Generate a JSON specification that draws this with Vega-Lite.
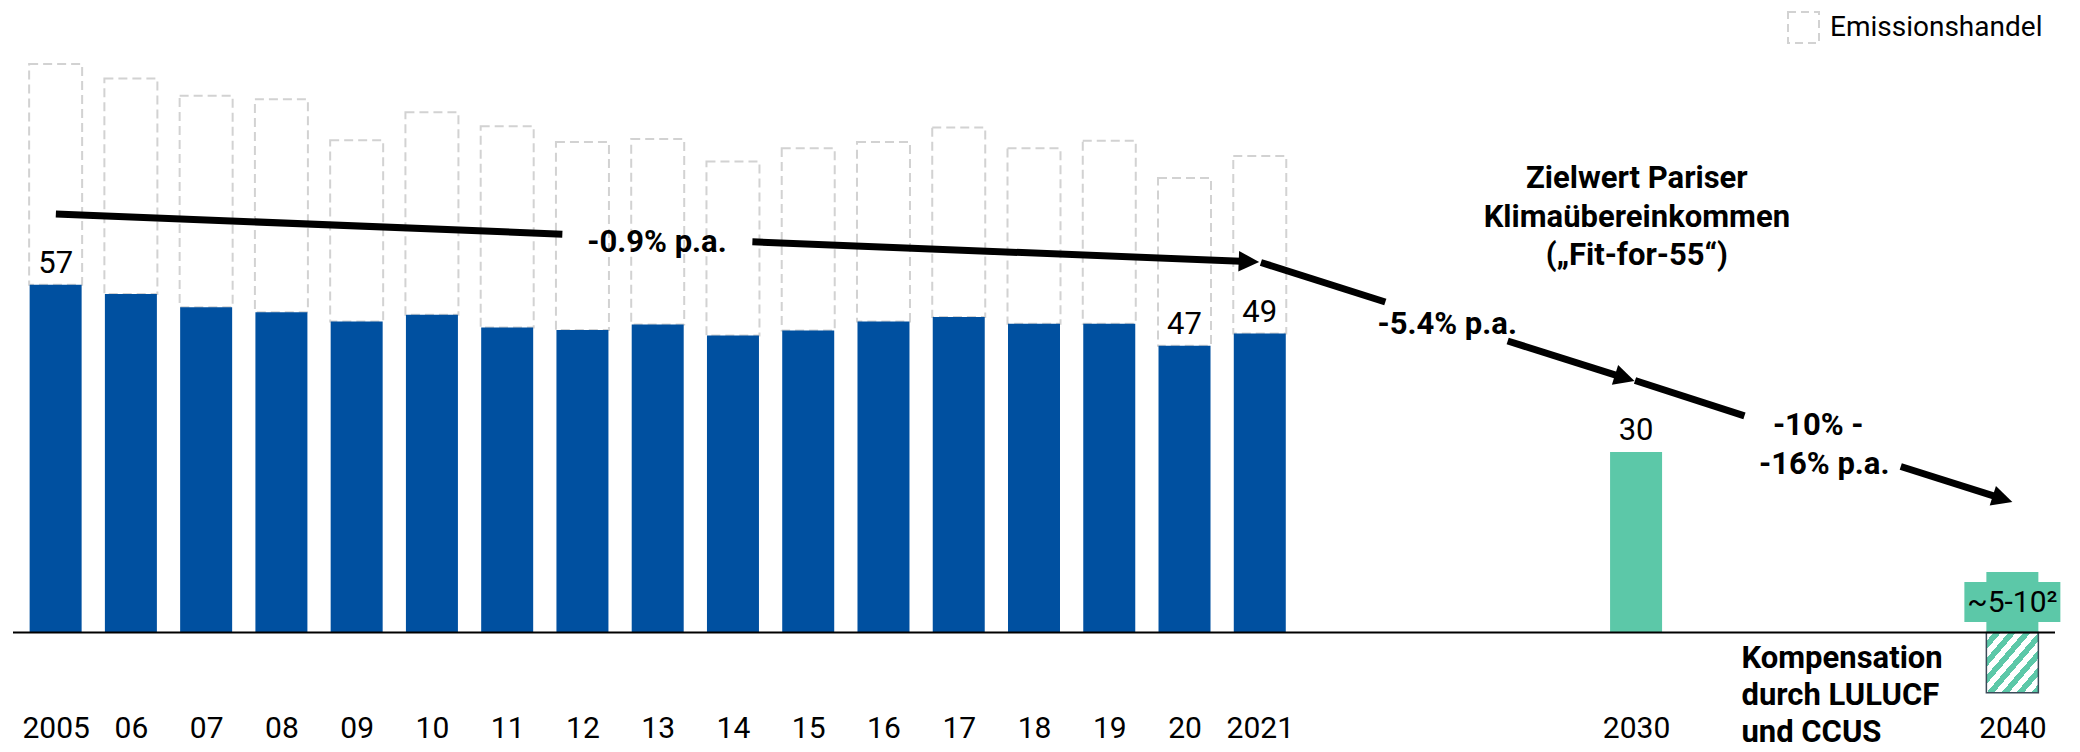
{
  "$schema": "https://vega.github.io/schema/vega-lite/v6.json",
  "width": 2042,
  "height": 700,
  "autosize": {"type": "none"},
  "padding": {"left": 13, "top": 0, "right": 25, "bottom": 52},
  "background": "white",
  "config": {"view": {"stroke": null}, "font": "Roboto"},
  "datasets": {
    "bars": [
      {"pos": 0, "year": "2005", "kind": "hist", "value": 57.0, "total": 93.2, "label": "57"},
      {"pos": 1, "year": "06", "kind": "hist", "value": 55.5, "total": 90.8},
      {"pos": 2, "year": "07", "kind": "hist", "value": 53.3, "total": 88.0},
      {"pos": 3, "year": "08", "kind": "hist", "value": 52.5, "total": 87.4},
      {"pos": 4, "year": "09", "kind": "hist", "value": 51.0, "total": 80.7},
      {"pos": 5, "year": "10", "kind": "hist", "value": 52.1, "total": 85.3},
      {"pos": 6, "year": "11", "kind": "hist", "value": 50.0, "total": 83.0},
      {"pos": 7, "year": "12", "kind": "hist", "value": 49.6, "total": 80.4},
      {"pos": 8, "year": "13", "kind": "hist", "value": 50.5, "total": 80.9},
      {"pos": 9, "year": "14", "kind": "hist", "value": 48.7, "total": 77.2},
      {"pos": 10, "year": "15", "kind": "hist", "value": 49.5, "total": 79.4},
      {"pos": 11, "year": "16", "kind": "hist", "value": 51.0, "total": 80.4},
      {"pos": 12, "year": "17", "kind": "hist", "value": 51.7, "total": 82.8},
      {"pos": 13, "year": "18", "kind": "hist", "value": 50.6, "total": 79.4},
      {"pos": 14, "year": "19", "kind": "hist", "value": 50.6, "total": 80.6},
      {"pos": 15, "year": "20", "kind": "hist", "value": 47.0, "total": 74.5, "label": "47"},
      {"pos": 16, "year": "2021", "kind": "hist", "value": 49.0, "total": 78.1, "label": "49"},
      {"pos": 21, "year": "2030", "kind": "target", "value": 29.6, "label": "30"},
      {"pos": 26, "year": "2040", "kind": "target", "value": 9.9},
      {"pos": 26, "year": "2040", "kind": "offset", "value": -9.9}
    ],
    "baseline": [{"level": 0}],
    "rangebox": [
      {"pos": 26, "low": 1.72, "high": 8.28, "mid": 4.9, "text": "~5-10²"}
    ],
    "arrows": [
      {"x0": 0.003, "y0": 68.61, "x1": 6.733, "y1": 65.30},
      {"x0": 9.258, "y0": 64.05, "x1": 15.75, "y1": 60.85},
      {"x0": 16.015, "y0": 60.66, "x1": 17.668, "y1": 54.18},
      {"x0": 19.294, "y0": 47.79, "x1": 20.75, "y1": 42.10},
      {"x0": 20.986, "y0": 41.31, "x1": 22.44, "y1": 35.51},
      {"x0": 24.517, "y0": 27.21, "x1": 25.76, "y1": 22.34}
    ],
    "heads": [
      {"x": 15.856, "y": 60.80, "leg": "a"},
      {"x": 20.85, "y": 41.72, "leg": "b"},
      {"x": 25.87, "y": 21.90, "leg": "b"}
    ],
    "notes": [
      {"x": 7.99, "y": 62.38, "text": "-0.9% p.a."},
      {"x": 18.49, "y": 48.93, "text": "-5.4% p.a."},
      {"x": 23.42, "y": 32.38, "text": "-10% -"},
      {"x": 23.5, "y": 25.98, "text": "-16% p.a."},
      {"x": 21.01, "y": 72.8, "text": "Zielwert Pariser"},
      {"x": 21.01, "y": 66.5, "text": "Klimaübereinkommen"},
      {"x": 21.01, "y": 60.2, "text": "(„Fit-for-55“)"}
    ],
    "leftnotes": [
      {"x": 22.4, "y": -5.82, "text": "Kompensation"},
      {"x": 22.4, "y": -11.89, "text": "durch LULUCF"},
      {"x": 22.4, "y": -17.95, "text": "und CCUS"}
    ]
  },
  "layer": [
    {
      "data": {"name": "bars"},
      "transform": [{"filter": "datum.kind == 'hist'"}],
      "mark": {"type": "bar", "width": 53, "fill": "white", "strokeWidth": 2, "strokeDash": [9, 5]},
      "encoding": {
        "x": {"field": "pos", "type": "quantitative", "scale": {"domain": [-0.5, 26.5], "nice": false, "zero": false},
          "axis": {"values": [0,1,2,3,4,5,6,7,8,9,10,11,12,13,14,15,16,21,26],
            "labelExpr": "['2005','06','07','08','09','10','11','12','13','14','15','16','17','18','19','20','2021','','','','','2030','','','','','2040'][datum.value]",
            "domain": false, "ticks": false, "tickSize": 0, "grid": false, "title": null,
            "labelFontSize": 30, "labelFont": "Roboto", "labelColor": "black", "labelPadding": 37,
            "labelBaseline": "alphabetic", "labelFlush": false, "labelOverlap": false, "labelBound": false}},
        "y": {"field": "total", "type": "quantitative", "scale": {"domain": [-11.07, 103.69], "nice": false, "zero": false}, "axis": null},
        "y2": {"field": "value"},
        "stroke": {"datum": "Emissionshandel", "type": "nominal", "scale": {"range": ["#d2d2d2"]},
          "legend": {"title": null, "orient": "none", "legendX": 1774, "legendY": 11, "symbolType": "square", "symbolSize": 961,
            "symbolStrokeWidth": 2, "symbolDash": [8, 5], "symbolFillColor": "white", "symbolOpacity": 1,
            "labelFontSize": 28, "labelFont": "Roboto", "labelColor": "black", "labelOffset": 10, "labelLimit": 0, "padding": 0}}
      }
    },
    {
      "data": {"name": "bars"},
      "transform": [{"filter": "datum.kind == 'hist'"}],
      "mark": {"type": "bar", "width": 52, "color": "#0050A0"},
      "encoding": {
        "x": {"field": "pos", "type": "quantitative"},
        "y": {"field": "value", "type": "quantitative"}
      }
    },
    {
      "data": {"name": "bars"},
      "transform": [{"filter": "datum.kind == 'target'"}],
      "mark": {"type": "bar", "width": 52, "color": "#5CC8A8"},
      "encoding": {
        "x": {"field": "pos", "type": "quantitative"},
        "y": {"field": "value", "type": "quantitative"}
      }
    },
    {
      "data": {"name": "rangebox"},
      "mark": {"type": "bar", "width": 96, "color": "#5CC8A8"},
      "encoding": {
        "x": {"field": "pos", "type": "quantitative"},
        "y": {"field": "high", "type": "quantitative"},
        "y2": {"field": "low"}
      }
    },
    {
      "data": {"name": "bars"},
      "transform": [{"filter": "datum.kind == 'offset'"}],
      "mark": {"type": "bar", "width": 52, "stroke": "#3b4a58", "strokeWidth": 1.5,
        "fill": {"gradient": "linear", "x1": 0, "y1": 0, "x2": 1, "y2": 1, "stops": [
          {"offset": 0, "color": "white"}, {"offset": 0.0714, "color": "white"}, {"offset": 0.0714, "color": "#5CC8A8"}, {"offset": 0.1429, "color": "#5CC8A8"},
          {"offset": 0.1429, "color": "white"}, {"offset": 0.2143, "color": "white"}, {"offset": 0.2143, "color": "#5CC8A8"}, {"offset": 0.2857, "color": "#5CC8A8"},
          {"offset": 0.2857, "color": "white"}, {"offset": 0.3571, "color": "white"}, {"offset": 0.3571, "color": "#5CC8A8"}, {"offset": 0.4286, "color": "#5CC8A8"},
          {"offset": 0.4286, "color": "white"}, {"offset": 0.5, "color": "white"}, {"offset": 0.5, "color": "#5CC8A8"}, {"offset": 0.5714, "color": "#5CC8A8"},
          {"offset": 0.5714, "color": "white"}, {"offset": 0.6429, "color": "white"}, {"offset": 0.6429, "color": "#5CC8A8"}, {"offset": 0.7143, "color": "#5CC8A8"},
          {"offset": 0.7143, "color": "white"}, {"offset": 0.7857, "color": "white"}, {"offset": 0.7857, "color": "#5CC8A8"}, {"offset": 0.8571, "color": "#5CC8A8"},
          {"offset": 0.8571, "color": "white"}, {"offset": 0.9286, "color": "white"}, {"offset": 0.9286, "color": "#5CC8A8"}, {"offset": 1, "color": "#5CC8A8"}
        ]}},
      "encoding": {
        "x": {"field": "pos", "type": "quantitative"},
        "y": {"field": "value", "type": "quantitative"}
      }
    },
    {
      "data": {"name": "baseline"},
      "mark": {"type": "rule", "color": "black", "strokeWidth": 2},
      "encoding": {"y": {"field": "level", "type": "quantitative"}}
    },
    {
      "data": {"name": "bars"},
      "transform": [{"filter": "isValid(datum.label)"}],
      "mark": {"type": "text", "fontSize": 31, "font": "Roboto", "color": "black", "baseline": "alphabetic", "dy": -12},
      "encoding": {
        "x": {"field": "pos", "type": "quantitative"},
        "y": {"field": "value", "type": "quantitative"},
        "text": {"field": "label"}
      }
    },
    {
      "data": {"name": "rangebox"},
      "mark": {"type": "text", "fontSize": 30, "font": "Roboto", "color": "black", "baseline": "middle"},
      "encoding": {
        "x": {"field": "pos", "type": "quantitative"},
        "y": {"field": "mid", "type": "quantitative"},
        "text": {"field": "text"}
      }
    },
    {
      "data": {"name": "arrows"},
      "mark": {"type": "rule", "color": "black", "strokeWidth": 7, "strokeCap": "butt"},
      "encoding": {
        "x": {"field": "x0", "type": "quantitative"},
        "y": {"field": "y0", "type": "quantitative"},
        "x2": {"field": "x1"},
        "y2": {"field": "y1"}
      }
    },
    {
      "data": {"name": "heads"},
      "transform": [{"filter": "datum.leg == 'a'"}],
      "mark": {"type": "point", "shape": "M-1,-1L1,0L-1,1Z", "size": 420, "filled": true, "color": "black", "opacity": 1, "angle": 2.3},
      "encoding": {
        "x": {"field": "x", "type": "quantitative"},
        "y": {"field": "y", "type": "quantitative"}
      }
    },
    {
      "data": {"name": "heads"},
      "transform": [{"filter": "datum.leg == 'b'"}],
      "mark": {"type": "point", "shape": "M-1,-1L1,0L-1,1Z", "size": 420, "filled": true, "color": "black", "opacity": 1, "angle": 17.7},
      "encoding": {
        "x": {"field": "x", "type": "quantitative"},
        "y": {"field": "y", "type": "quantitative"}
      }
    },
    {
      "data": {"name": "notes"},
      "mark": {"type": "text", "fontSize": 31, "fontWeight": "bold", "font": "Roboto", "color": "black", "align": "center", "baseline": "alphabetic"},
      "encoding": {
        "x": {"field": "x", "type": "quantitative"},
        "y": {"field": "y", "type": "quantitative"},
        "text": {"field": "text"}
      }
    },
    {
      "data": {"name": "leftnotes"},
      "mark": {"type": "text", "fontSize": 31, "fontWeight": "bold", "font": "Roboto", "color": "black", "align": "left", "baseline": "alphabetic"},
      "encoding": {
        "x": {"field": "x", "type": "quantitative"},
        "y": {"field": "y", "type": "quantitative"},
        "text": {"field": "text"}
      }
    }
  ]
}
